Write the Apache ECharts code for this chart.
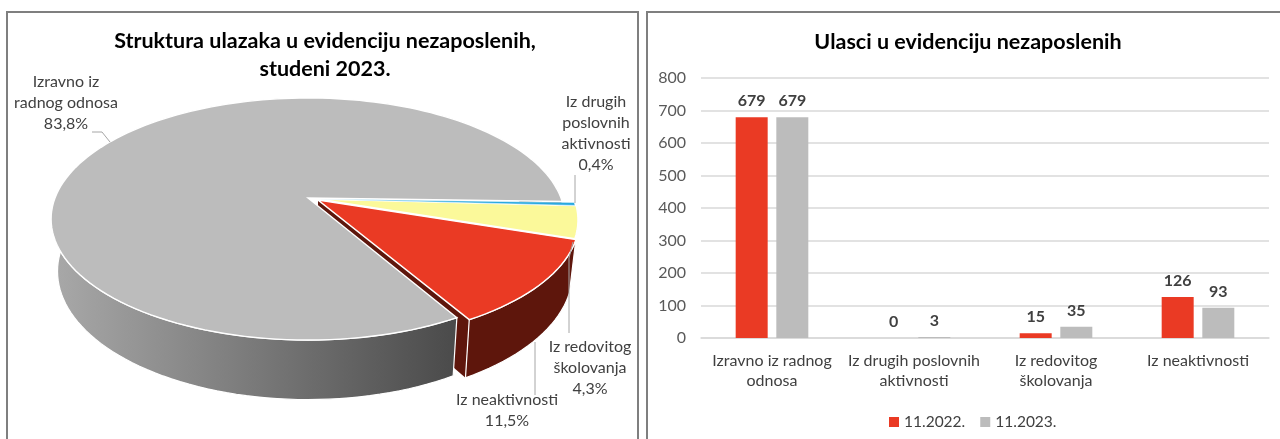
<!DOCTYPE html>
<html>
<head>
<meta charset="utf-8">
<script src="https://cdn.jsdelivr.net/npm/echarts@6/dist/echarts.min.js"></script>
<style>
  html, body { margin: 0; padding: 0; background: #fff; }
  #chart { width: 1280px; height: 439px; }
</style>
</head>
<body>
<div id="chart"></div>
<script>
// lijevi graf - struktura ulazaka
const pieNames = ['Izravno iz\nradnog odnosa', 'Iz drugih\nposlovnih\naktivnosti', 'Iz redovitog\nškolovanja', 'Iz neaktivnosti'];
const pieShares = [83.8, 0.4, 4.3, 11.5];

// desni graf - ulasci
const barCategories = ['Izravno iz radnog\nodnosa', 'Iz drugih poslovnih\naktivnosti', 'Iz redovitog\nškolovanja', 'Iz neaktivnosti'];
const values2022 = [679, 0, 15, 126];
const values2023 = [679, 3, 35, 93];

const FONT = 'Lato';
const TEXT_COLOR = '#404040';
const AXIS_COLOR = '#595959';

// perspektiva 3D pite: jedinicna kruznica -> elipsa
const B = 117.4, P = 0.1736;
const LOW_X = 0.975, LOW_Y = 1.06, DEPTH = 51;
const START_DEG = 60;

const sliceStyle = [
  {cx: 308, cy: 198, a: 253, top: '#bcbcbc', wall: new echarts.graphic.LinearGradient(51, 0, 457, 0, [
    {offset: 0, color: '#a9a9a9'},
    {offset: 1, color: '#4a4a4a'}
  ], true)},
  {cx: 316, cy: 199, a: 257, top: '#29a9e0', wall: '#14506a'},
  {cx: 317, cy: 199, a: 257, top: '#fbf99a', wall: '#7d7c4d'},
  {cx: 318, cy: 200, a: 257, top: '#ea3a24', wall: '#5e160c'}
];

// kutevi odsjecaka, u smjeru kazaljke od START_DEG
const sliceAngles = [];
let acc = START_DEG;
pieShares.forEach(s => {
  sliceAngles.push([acc, acc + s * 3.6]);
  acc += s * 3.6;
});

function rim(deg, st, low) {
  const r = deg * Math.PI / 180;
  const u = Math.cos(r), v = Math.sin(r);
  const d = 1 - P * v;
  return [
    st.cx + (low ? LOW_X : 1) * st.a * u / d,
    st.cy + (low ? DEPTH : 0) + (low ? LOW_Y : 1) * B * v / d
  ];
}

function arc(a0, a1, st, low) {
  const pts = [];
  const n = Math.max(2, Math.ceil(Math.abs(a1 - a0) / 2));
  for (let i = 0; i <= n; i++) pts.push(rim(a0 + (a1 - a0) * i / n, st, low));
  return pts;
}

function renderWall(params, api) {
  const i = api.value(0);
  const st = sliceStyle[i];
  const [a0, a1] = sliceAngles[i];
  const children = [];
  // bocna stranica uz rez (vidi se u procjepu)
  if (i === 3) {
    children.push({
      type: 'polygon',
      shape: {points: [[st.cx, st.cy], rim(a1, st, false), rim(a1, st, true), [st.cx, st.cy + DEPTH]]},
      style: {fill: st.wall}
    });
  }
  children.push({
    type: 'polygon',
    shape: {points: arc(a0, a1, st, false).concat(arc(a1, a0, st, true))},
    style: {fill: st.wall, stroke: '#fff', lineWidth: 1.2}
  });
  return {type: 'group', children};
}

function renderTop(params, api) {
  const i = api.value(0);
  const st = sliceStyle[i];
  const [a0, a1] = sliceAngles[i];
  return {
    type: 'polygon',
    shape: {points: [[st.cx, st.cy]].concat(arc(a0, a1, st, false))},
    style: {fill: st.top, stroke: '#fff', lineWidth: i === 1 ? 0.5 : 1.4}
  };
}

// pozicije oznaka na piti
const pieLabelPos = [
  {x: 66, y: 81},
  {x: 596, y: 101},
  {x: 590, y: 346},
  {x: 507, y: 399}
];
const leaders = [
  [[92, 132], [102, 132], [110, 142]],
  [[575, 175], [575, 203]],
  [[573, 242], [569, 258], [569, 333]],
  [[535, 342], [535, 395]]
];

const graphic = [
  {type: 'rect', z: 0, shape: {x: 7, y: 12, width: 631, height: 440}, style: {fill: '#fff', stroke: '#7f7f7f', lineWidth: 2}},
  {type: 'rect', z: 0, shape: {x: 647, y: 12, width: 660, height: 440}, style: {fill: '#fff', stroke: '#7f7f7f', lineWidth: 2}}
];
leaders.forEach(pts => {
  graphic.push({type: 'polyline', z: 10, shape: {points: pts}, style: {fill: null, stroke: '#a6a6a6', lineWidth: 1}});
});
pieNames.forEach((name, i) => {
  const p = pieLabelPos[i];
  graphic.push({
    type: 'text', z: 10, x: p.x, y: p.y - 10,
    style: {
      text: name + '\n' + String(pieShares[i]).replace('.', ',') + '%',
      fontFamily: FONT, fontSize: 16, lineHeight: 21,
      fill: TEXT_COLOR, align: 'center', verticalAlign: 'top'
    }
  });
});

const barLabel = {
  show: true, position: 'top', distance: 8,
  fontFamily: FONT, fontSize: 16, fontWeight: 'bold', color: TEXT_COLOR
};

const option = {
  animation: false,
  backgroundColor: '#fff',
  title: [
    {
      text: 'Struktura ulazaka u evidenciju nezaposlenih,\nstudeni 2023.',
      left: 320, top: 22, textAlign: 'center',
      textStyle: {fontFamily: FONT, fontSize: 21.5, fontWeight: 'bold', color: '#000', lineHeight: 28}
    },
    {
      text: 'Ulasci u evidenciju nezaposlenih',
      left: 963, top: 26, textAlign: 'center',
      textStyle: {fontFamily: FONT, fontSize: 21.5, fontWeight: 'bold', color: '#000'}
    }
  ],
  legend: {
    data: ['11.2022.', '11.2023.'],
    left: 884, top: 409,
    icon: 'rect', itemWidth: 10, itemHeight: 10, itemGap: 15,
    textStyle: {fontFamily: FONT, fontSize: 15.5, color: TEXT_COLOR}
  },
  grid: {left: 701, right: 11, top: 78, bottom: 101},
  xAxis: {
    type: 'category',
    data: barCategories,
    axisTick: {show: false},
    axisLine: {lineStyle: {color: '#d9d9d9', width: 1.5}},
    axisLabel: {interval: 0, fontFamily: FONT, fontSize: 16, color: TEXT_COLOR, lineHeight: 20, margin: 13}
  },
  yAxis: {
    type: 'value', min: 0, max: 800, interval: 100,
    axisLine: {show: false},
    axisTick: {show: false},
    axisLabel: {fontFamily: FONT, fontSize: 16, color: AXIS_COLOR, margin: 15},
    splitLine: {lineStyle: {color: '#d9d9d9', width: 1.5}}
  },
  graphic: graphic,
  series: [
    {name: '11.2022.', type: 'bar', data: values2022, barWidth: 32, barGap: '27%', itemStyle: {color: '#ea3a24'}, label: barLabel},
    {name: '11.2023.', type: 'bar', data: values2023, barWidth: 32, itemStyle: {color: '#bcbcbc'}, label: barLabel},
    // redoslijed crtanja: straznji zidovi prvo, pa prednji
    {type: 'custom', coordinateSystem: 'none', z: 3, silent: true, renderItem: renderWall, data: [[1], [2], [3], [0]]},
    {type: 'custom', coordinateSystem: 'none', z: 4, silent: true, renderItem: renderTop, data: [[0], [2], [1], [3]]}
  ]
};

const myChart = echarts.init(document.getElementById('chart'));
myChart.setOption(option);
</script>
</body>
</html>
